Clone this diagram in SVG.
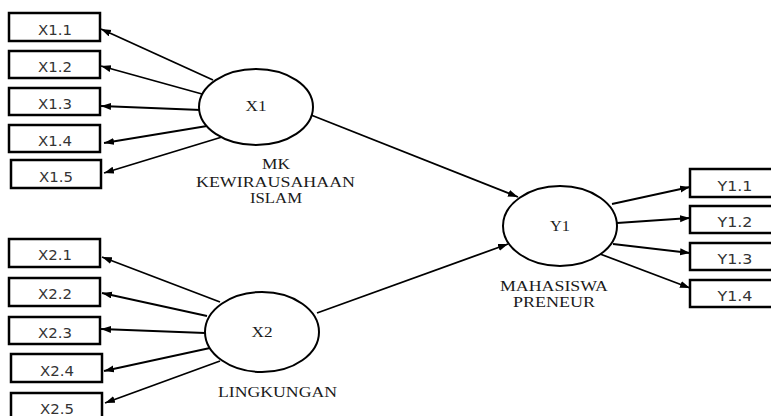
<svg xmlns="http://www.w3.org/2000/svg" width="771" height="416" viewBox="0 0 771 416">
<defs>
<marker id="ah" markerUnits="userSpaceOnUse" markerWidth="11" markerHeight="8" refX="10" refY="3.5" orient="auto">
<path d="M0,0 L10,3.5 L0,7 z" fill="#000"/>
</marker>
<style>
.box{fill:#fff;stroke:#000;stroke-width:2.5}
.lat{fill:#fff;stroke:#000;stroke-width:2}
.ln{stroke:#000;stroke-width:1.8;fill:none;marker-end:url(#ah)}
.bt{font-family:"DejaVu Sans",Verdana,sans-serif;font-size:14px;fill:#333;text-anchor:middle}
.st{font-family:"Liberation Serif","Times New Roman",serif;font-size:14px;fill:#1a1a1a;text-anchor:middle}
</style>
</defs>
<rect width="771" height="416" fill="#fff"/>
<g id="connectors">
<line class="ln" x1="213" y1="80" x2="101" y2="29"/>
<line class="ln" x1="202" y1="94" x2="101" y2="66"/>
<line class="ln" x1="201" y1="110" x2="101" y2="106"/>
<line class="ln" x1="207" y1="126" x2="104" y2="143"/>
<line class="ln" x1="222" y1="137" x2="104" y2="173"/>
<line class="ln" x1="220" y1="302" x2="102" y2="257"/>
<line class="ln" x1="207" y1="316" x2="102" y2="293"/>
<line class="ln" x1="205" y1="333" x2="101" y2="329"/>
<line class="ln" x1="210" y1="348" x2="104" y2="371"/>
<line class="ln" x1="220" y1="361" x2="105" y2="403"/>
<line class="ln" x1="612" y1="204" x2="690" y2="187"/>
<line class="ln" x1="617" y1="223" x2="690" y2="218"/>
<line class="ln" x1="613" y1="244" x2="690" y2="253"/>
<line class="ln" x1="600" y1="254" x2="690" y2="288"/>
<line class="ln" x1="311" y1="115" x2="518" y2="197"/>
<line class="ln" x1="317" y1="313" x2="508" y2="244"/>
</g>
<g id="X1">
<ellipse class="lat" cx="256" cy="107" rx="57" ry="38"/>
<text class="st" x="256" y="111" textLength="21" lengthAdjust="spacingAndGlyphs">X1</text>
<text class="st" x="276" y="169" textLength="28" lengthAdjust="spacingAndGlyphs">MK</text>
<text class="st" x="275.5" y="187" textLength="159" lengthAdjust="spacingAndGlyphs">KEWIRAUSAHAAN</text>
<text class="st" x="276" y="203" textLength="52" lengthAdjust="spacingAndGlyphs">ISLAM</text>
</g>
<g id="X2">
<ellipse class="lat" cx="262" cy="332" rx="57" ry="40"/>
<text class="st" x="262" y="337" textLength="21" lengthAdjust="spacingAndGlyphs">X2</text>
<text class="st" x="277.5" y="397" textLength="119" lengthAdjust="spacingAndGlyphs">LINGKUNGAN</text>
</g>
<g id="Y1">
<ellipse class="lat" cx="560" cy="226" rx="57" ry="40"/>
<text class="st" x="560" y="231" textLength="20" lengthAdjust="spacingAndGlyphs">Y1</text>
<text class="st" x="554" y="291" textLength="108" lengthAdjust="spacingAndGlyphs">MAHASISWA</text>
<text class="st" x="554" y="307" textLength="82" lengthAdjust="spacingAndGlyphs">PRENEUR</text>
</g>
<g id="X1.1"><rect class="box" x="9" y="13" width="91" height="28"/><text class="bt" x="55" y="35" textLength="34" lengthAdjust="spacingAndGlyphs">X1.1</text></g>
<g id="X1.2"><rect class="box" x="9" y="51" width="91" height="27"/><text class="bt" x="55" y="72" textLength="34" lengthAdjust="spacingAndGlyphs">X1.2</text></g>
<g id="X1.3"><rect class="box" x="9" y="88" width="91" height="27"/><text class="bt" x="55" y="109" textLength="34" lengthAdjust="spacingAndGlyphs">X1.3</text></g>
<g id="X1.4"><rect class="box" x="9" y="125" width="91" height="27"/><text class="bt" x="55" y="146" textLength="34" lengthAdjust="spacingAndGlyphs">X1.4</text></g>
<g id="X1.5"><rect class="box" x="11" y="160" width="90" height="28"/><text class="bt" x="56" y="182" textLength="34" lengthAdjust="spacingAndGlyphs">X1.5</text></g>
<g id="X2.1"><rect class="box" x="9" y="239" width="91" height="28"/><text class="bt" x="55" y="260" textLength="34" lengthAdjust="spacingAndGlyphs">X2.1</text></g>
<g id="X2.2"><rect class="box" x="9" y="278" width="91" height="28"/><text class="bt" x="55" y="299" textLength="34" lengthAdjust="spacingAndGlyphs">X2.2</text></g>
<g id="X2.3"><rect class="box" x="9" y="317" width="91" height="27"/><text class="bt" x="55" y="338" textLength="34" lengthAdjust="spacingAndGlyphs">X2.3</text></g>
<g id="X2.4"><rect class="box" x="11" y="354" width="91" height="28"/><text class="bt" x="57" y="376" textLength="34" lengthAdjust="spacingAndGlyphs">X2.4</text></g>
<g id="X2.5"><rect class="box" x="11" y="393" width="91" height="28"/><text class="bt" x="57" y="414" textLength="34" lengthAdjust="spacingAndGlyphs">X2.5</text></g>
<g id="Y1.1"><rect class="box" x="690" y="169" width="91" height="28"/><text class="bt" x="735" y="191" textLength="35" lengthAdjust="spacingAndGlyphs">Y1.1</text></g>
<g id="Y1.2"><rect class="box" x="690" y="206" width="91" height="27"/><text class="bt" x="735" y="227" textLength="35" lengthAdjust="spacingAndGlyphs">Y1.2</text></g>
<g id="Y1.3"><rect class="box" x="690" y="243" width="91" height="27"/><text class="bt" x="735" y="264" textLength="35" lengthAdjust="spacingAndGlyphs">Y1.3</text></g>
<g id="Y1.4"><rect class="box" x="690" y="280" width="91" height="27"/><text class="bt" x="735" y="301" textLength="35" lengthAdjust="spacingAndGlyphs">Y1.4</text></g>
</svg>
